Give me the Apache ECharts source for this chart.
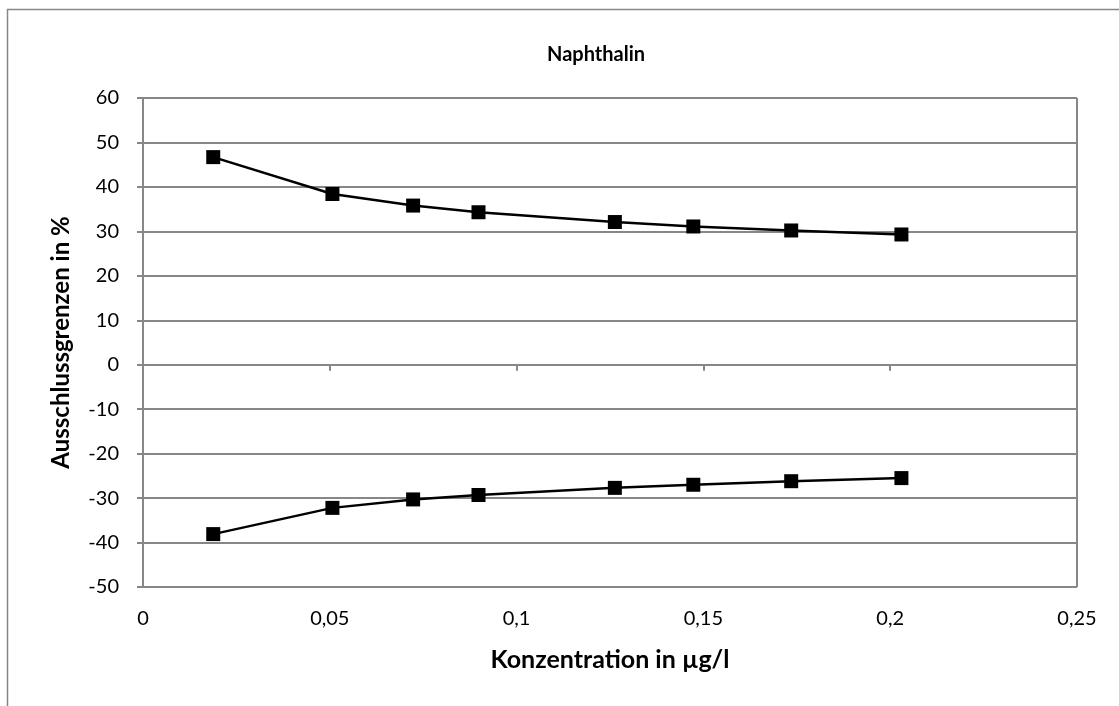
<!DOCTYPE html>
<html>
<head>
<meta charset="utf-8">
<script src="https://cdn.jsdelivr.net/npm/echarts@6/dist/echarts.min.js"></script>
<style>
html,body{margin:0;padding:0;background:#fff;}
#c{width:1119px;height:706px;}
</style>
</head>
<body>
<div id="c"></div>
<script>
const concentrations = [0.0188, 0.0507, 0.0723, 0.0898, 0.1263, 0.1473, 0.1735, 0.203];
const upperLimit = [46.7, 38.4, 35.8, 34.3, 32.1, 31.1, 30.2, 29.3];
const lowerLimit = [-38.1, -32.2, -30.3, -29.3, -27.7, -27.0, -26.2, -25.5];
const titleText = 'Naphthalin';
const xName = 'Konzentration in µg/l';
const yName = 'Ausschlussgrenzen in %';

const FONT = 'Lato';
const GRAY = '#878787';
const toPairs = (xs, ys) => xs.map((x, i) => [x, ys[i]]);
const fmt = v => String(Math.round(v * 100) / 100).replace('.', ',');

const chart = echarts.init(document.getElementById('c'), null, {renderer: 'canvas'});
chart.setOption({
  animation: false,
  backgroundColor: '#fff',
  title: {
    text: titleText,
    left: 591, top: 40, textAlign: 'center',
    textStyle: {fontFamily: FONT, fontWeight: 'bold', fontSize: 20, color: '#000'}
  },
  graphic: [{
    type: 'rect', left: 5, top: 7, silent: true,
    shape: {width: 1300, height: 900},
    style: {fill: 'none', stroke: GRAY, lineWidth: 1.5}
  }, {
    type: 'line', silent: true,
    shape: {x1: 1077, y1: 98, x2: 1077, y2: 587},
    style: {stroke: GRAY, lineWidth: 2}
  }],
  grid: {left: 143, top: 98, right: 42, bottom: 119, containLabel: false},
  xAxis: [{
    type: 'value', min: 0, max: 0.25, interval: 0.05,
    position: 'bottom',
    axisLine: {show: false, onZero: false},
    axisTick: {show: false},
    splitLine: {show: false},
    axisLabel: {fontFamily: FONT, fontSize: 20, color: '#000', margin: 22, formatter: fmt},
    name: xName, nameLocation: 'middle', nameGap: 60,
    nameTextStyle: {fontFamily: FONT, fontWeight: 'bold', fontSize: 25, color: '#000'}
  }, {
    type: 'value', min: 0, max: 0.25, interval: 0.05,
    position: 'bottom',
    axisLine: {show: true, onZero: true, lineStyle: {color: GRAY, width: 2}},
    axisTick: {show: true, inside: false, length: 6, lineStyle: {color: GRAY, width: 2}},
    axisLabel: {show: false},
    splitLine: {show: false}
  }],
  yAxis: {
    type: 'value', min: -50, max: 60, interval: 10,
    axisLine: {show: true, lineStyle: {color: GRAY, width: 2}},
    axisTick: {show: true, length: 6, lineStyle: {color: GRAY, width: 2}},
    axisLabel: {fontFamily: FONT, fontSize: 20, color: '#000', margin: 24},
    splitLine: {show: true, lineStyle: {color: GRAY, width: 2}},
    name: yName, nameLocation: 'middle', nameGap: 70, nameRotate: 90,
    nameTextStyle: {fontFamily: FONT, fontWeight: 'bold', fontSize: 24, color: '#000'}
  },
  series: [{
    type: 'line', xAxisIndex: 0, data: toPairs(concentrations, upperLimit),
    symbol: 'rect', symbolSize: 14,
    lineStyle: {color: '#000', width: 2.5},
    itemStyle: {color: '#000'}
  }, {
    type: 'line', xAxisIndex: 0, data: toPairs(concentrations, lowerLimit),
    symbol: 'rect', symbolSize: 14,
    lineStyle: {color: '#000', width: 2.5},
    itemStyle: {color: '#000'}
  }]
});
</script>
</body>
</html>
